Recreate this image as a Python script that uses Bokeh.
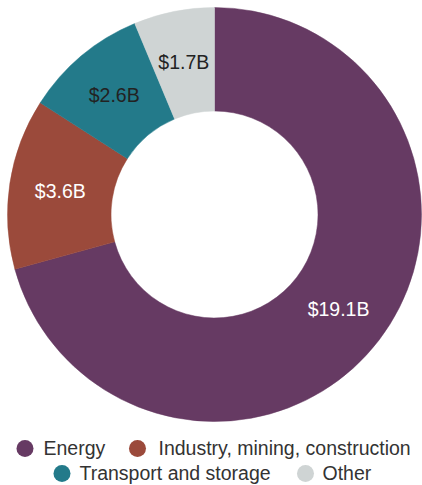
import math
import numpy as np
from bokeh.plotting import figure
from bokeh.models import Range1d, ColumnDataSource
from bokeh.core.properties import value
from bokeh.embed import file_html
from bokeh.resources import INLINE

# ---- data ----
categories = ["Energy", "Industry, mining, construction", "Transport and storage", "Other"]
values = [19.1, 3.6, 2.6, 1.7]
labels = ["$19.1B", "$3.6B", "$2.6B", "$1.7B"]
colors = ["#663a63", "#9b4a3b", "#237a8a", "#cfd4d4"]
label_colors = ["#ffffff", "#ffffff", "#222222", "#222222"]

# ---- layout ----
W, H = 422, 485
CX, CY = 214, H - 214
R_OUT, R_IN = 207, 103.5
R_LAB = 156
FONT = value("Liberation Sans")
FSIZE = "19.5px"

vals = np.array(values)
frac = vals / vals.sum()
cum_end = np.cumsum(frac)
cum_start = cum_end - frac
start = math.pi / 2 - 2 * math.pi * cum_end
end = math.pi / 2 - 2 * math.pi * cum_start
mid = (start + end) / 2

src = ColumnDataSource(dict(
    x=[CX] * len(values), y=[CY] * len(values),
    start=start, end=end, color=colors,
    lx=CX + R_LAB * np.cos(mid), ly=CY + R_LAB * np.sin(mid),
    label=labels, lcolor=label_colors,
))

p = figure(width=W, height=H, output_backend="svg", toolbar_location=None,
           x_range=Range1d(0, W), y_range=Range1d(0, H), min_border=0)
p.axis.visible = False
p.grid.visible = False
p.outline_line_color = None
p.background_fill_color = "white"
p.border_fill_color = "white"

p.annular_wedge(x="x", y="y", inner_radius=R_IN, outer_radius=R_OUT,
                start_angle="start", end_angle="end", direction="anticlock",
                fill_color="color", line_color="color", line_width=0.5, source=src)

p.text(x="lx", y="ly", text="label", text_color="lcolor", text_font=FONT,
       text_font_size=FSIZE, text_align="center", text_baseline="middle", source=src)

# ---- legend (manual, two centred rows) ----
leg_cx = [24.5, 137, 61.5, 305]
leg_cy = [H - 448, H - 448, H - 473, H - 473]
leg_tx = [43, 158, 79, 322]
leg_ty = [H - 447, H - 447, H - 472, H - 472]

lsrc = ColumnDataSource(dict(cx=leg_cx, cy=leg_cy, tx=leg_tx, ty=leg_ty,
                             name=categories, color=colors))
p.scatter(x="cx", y="cy", size=17, marker="circle", fill_color="color",
          line_color=None, source=lsrc)
p.text(x="tx", y="ty", text="name", text_color="#333333", text_font=FONT,
       text_font_size=FSIZE, text_align="left", text_baseline="middle", source=lsrc)

open("out.html", "w").write(file_html(p, INLINE))
